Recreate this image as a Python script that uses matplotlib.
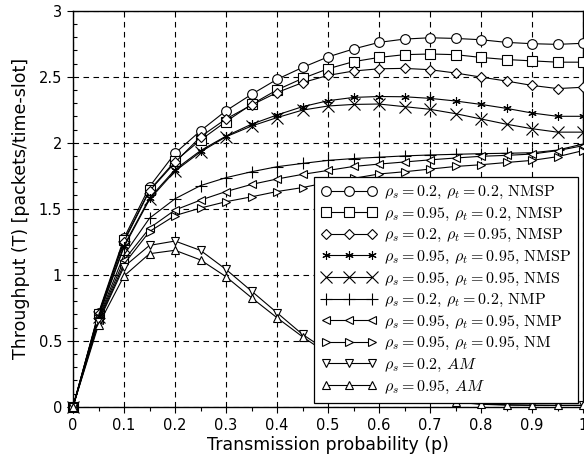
import numpy as np
import matplotlib
matplotlib.use("Agg")
import matplotlib.pyplot as plt
from matplotlib.ticker import MultipleLocator

plt.rcParams['font.family'] = ['DejaVu Sans']
plt.rcParams['mathtext.fontset'] = 'cm'

p = [0.0, 0.05, 0.1, 0.15, 0.2, 0.25, 0.3, 0.35, 0.4, 0.45, 0.5,
     0.55, 0.6, 0.65, 0.7, 0.75, 0.8, 0.85, 0.9, 0.95, 1.0]

nmsp_02_02 = [0, 0.71, 1.277, 1.667, 1.92, 2.09, 2.242, 2.366, 2.48, 2.57, 2.65,
              2.71, 2.76, 2.785, 2.795, 2.79, 2.78, 2.76, 2.75, 2.745, 2.753]
nmsp_095_02 = [0, 0.70, 1.26, 1.64, 1.86, 2.02, 2.16, 2.29, 2.40, 2.487, 2.56,
               2.614, 2.646, 2.667, 2.672, 2.667, 2.646, 2.63, 2.62, 2.61, 2.61]
nmsp_02_095 = [0, 0.70, 1.25, 1.635, 1.85, 2.045, 2.18, 2.285, 2.38, 2.455, 2.51,
               2.543, 2.56, 2.563, 2.553, 2.528, 2.497, 2.467, 2.434, 2.41, 2.42]
nmsp_095_095 = [0, 0.69, 1.22, 1.58, 1.796, 1.94, 2.05, 2.14, 2.21, 2.273, 2.318,
                2.343, 2.35, 2.348, 2.336, 2.316, 2.29, 2.26, 2.225, 2.2, 2.2]
nms_095_095 = [0, 0.68, 1.21, 1.57, 1.785, 1.93, 2.045, 2.126, 2.19, 2.247, 2.278,
               2.29, 2.293, 2.273, 2.253, 2.22, 2.18, 2.14, 2.106, 2.08, 2.08]
nmp_02_02 = [0, 0.67, 1.15, 1.428, 1.575, 1.675, 1.735, 1.78, 1.818, 1.843, 1.866,
             1.88, 1.89, 1.9, 1.907, 1.912, 1.917, 1.92, 1.924, 1.944, 1.99]
nmp_095_095 = [0, 0.66, 1.11, 1.353, 1.49, 1.565, 1.63, 1.684, 1.725, 1.76, 1.79,
               1.82, 1.838, 1.854, 1.87, 1.884, 1.897, 1.904, 1.914, 1.94, 1.977]
nm_095_095 = [0, 0.65, 1.08, 1.327, 1.448, 1.505, 1.553, 1.59, 1.63, 1.66, 1.70,
              1.73, 1.763, 1.78, 1.80, 1.82, 1.833, 1.85, 1.866, 1.894, 1.94]
am_02 = [0, 0.64, 1.06, 1.222, 1.255, 1.184, 1.04, 0.876, 0.712, 0.548, 0.42,
         0.31, 0.21, 0.13, 0.075, 0.04, 0.02, 0.015, 0.012, 0.01, 0.01]
am_095 = [0, 0.62, 0.99, 1.159, 1.185, 1.112, 0.985, 0.826, 0.674, 0.53, 0.40,
          0.29, 0.20, 0.12, 0.07, 0.035, 0.018, 0.012, 0.01, 0.01, 0.01]

labels = [
    r'$\rho_s = 0.2,\, \rho_t = 0.2,\, \mathrm{NMSP}$',
    r'$\rho_s = 0.95,\, \rho_t = 0.2,\, \mathrm{NMSP}$',
    r'$\rho_s = 0.2,\, \rho_t = 0.95,\, \mathrm{NMSP}$',
    r'$\rho_s = 0.95,\, \rho_t = 0.95,\, \mathrm{NMSP}$',
    r'$\rho_s = 0.95,\, \rho_t = 0.95,\, \mathrm{NMS}$',
    r'$\rho_s = 0.2,\, \rho_t = 0.2,\, \mathrm{NMP}$',
    r'$\rho_s = 0.95,\, \rho_t = 0.95,\, \mathrm{NMP}$',
    r'$\rho_s = 0.95,\, \rho_t = 0.95,\, \mathrm{NM}$',
    r'$\rho_s = 0.2,\, AM$',
    r'$\rho_s = 0.95,\, AM$',
]
series = [nmsp_02_02, nmsp_095_02, nmsp_02_095, nmsp_095_095, nms_095_095,
          nmp_02_02, nmp_095_095, nm_095_095, am_02, am_095]
markers = ['o', 's', 'D', (6, 2, 0), 'x', '+', '<', '>', 'v', '^']
msizes = [7, 6.5, 5, 6, 9, 8, 5.5, 5.5, 5.5, 5.5]

fig = plt.figure(figsize=(5.84, 4.72), dpi=100)
ax = fig.add_axes([73 / 584, (472 - 406.7) / 472, 510 / 584, 396 / 472])

for y, m, ms, lab in zip(series, markers, msizes, labels):
    ax.plot(p, y, color='black', lw=0.8, marker=m, ms=ms,
            mfc='white', mec='black', mew=0.8, label=lab, clip_on=False, zorder=3)

ax.set_xlim(0, 1)
ax.set_ylim(0, 3)
ax.set_xticks([0, 0.1, 0.2, 0.3, 0.4, 0.5, 0.6, 0.7, 0.8, 0.9, 1.0])
ax.set_xticklabels(['0', '0.1', '0.2', '0.3', '0.4', '0.5', '0.6', '0.7', '0.8', '0.9', '1'])
ax.set_yticks([0, 0.5, 1, 1.5, 2, 2.5, 3])
ax.set_yticklabels(['0', '0.5', '1', '1.5', '2', '2.5', '3'])
ax.xaxis.set_minor_locator(MultipleLocator(0.05))
ax.yaxis.set_minor_locator(MultipleLocator(0.1))
ax.tick_params(axis='both', which='major', labelsize=10.5, direction='out', length=4, width=0.8, pad=4)
ax.tick_params(axis='y', which='minor', direction='in', length=3, width=0.8)
ax.tick_params(axis='x', which='minor', direction='out', length=3, width=0.8)
ax.grid(True, which='major', color='black', linestyle=(0, (5, 4)), linewidth=0.8)
for s in ax.spines.values():
    s.set_linewidth(1.0)

ax.set_xlabel('Transmission probability (p)', fontsize=12.5, labelpad=2)
ax.set_ylabel('Throughput (T) [packets/time-slot]', fontsize=12.5, labelpad=6)

leg = ax.legend(loc='lower right', bbox_to_anchor=(0.99, 0.01), borderaxespad=0,
                fontsize=11.5, numpoints=3, handlelength=3.5, handletextpad=0.4,
                labelspacing=0.28, borderpad=0.45, fancybox=False, framealpha=1,
                edgecolor='black')
leg.get_frame().set_linewidth(0.9)
leg.set_zorder(5)

fig.savefig('out.png', dpi=100)
